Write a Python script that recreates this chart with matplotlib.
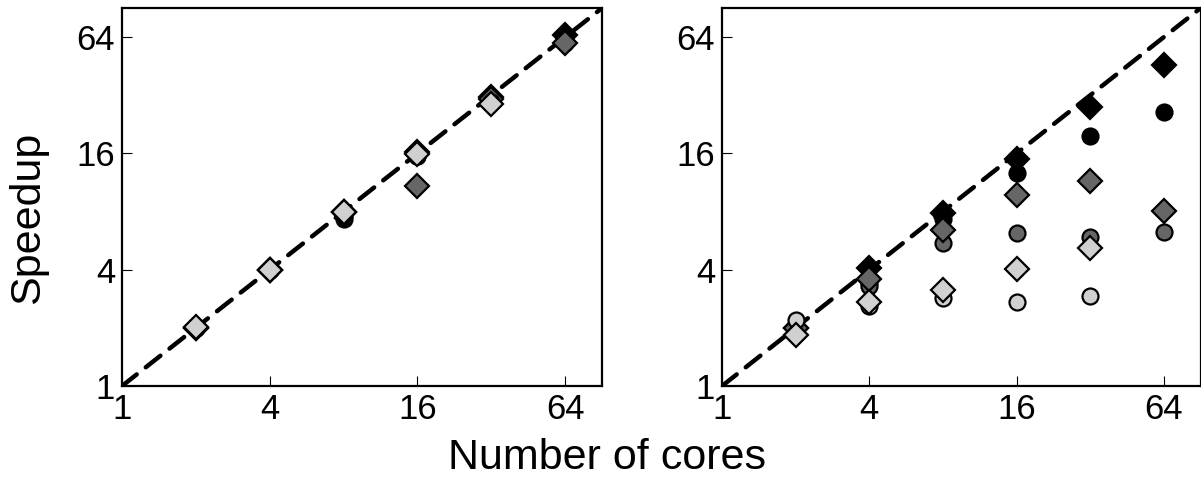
import matplotlib
matplotlib.use("Agg")
import matplotlib.pyplot as plt

plt.rcParams["font.family"] = ["Liberation Sans", "DejaVu Sans"]

# Core counts and measured speedups
cores = [2, 4, 8, 16, 32, 64]
cores_short = [2, 4, 8, 16, 32]

# Left panel
black_circle_L = [2.0, 4.0, 7.3, 16.0, 31.0, 64.0]
black_diamond_L = [2.0, 4.0, 8.0, 16.3, 31.5, 66.0]
dark_circle_L = [2.0, 4.0, 7.6, 15.5, 30.0, 60.0]
dark_diamond_L = [2.0, 4.0, 8.0, 10.9, 30.5, 60.0]
light_circle_L = [2.0, 4.0, 7.8, 15.5, 29.5]
light_diamond_L = [2.03, 4.0, 8.0, 15.8, 29.0]

# Right panel
black_circle_R = [2.0, 3.4, 7.3, 12.7, 19.8, 26.1]
black_diamond_R = [2.0, 4.1, 7.9, 15.0, 27.7, 45.8]
dark_circle_R = [2.0, 3.3, 5.5, 6.2, 5.9, 6.3]
dark_diamond_R = [2.0, 3.6, 6.4, 9.7, 11.5, 8.1]
light_circle_R = [2.2, 2.6, 2.87, 2.73, 2.93]
light_diamond_R = [1.84, 2.73, 3.15, 4.05, 5.2]

ticks = [1, 4, 16, 64]
tick_labels = ["1", "4", "16", "64"]
lim = (1, 90.5)

BLACK = "#000000"
DARK = "#666666"
LIGHT = "#d0d0d0"

fig = plt.figure(figsize=(12.01, 4.79), dpi=100)
ax_l = fig.add_axes([0.1016, 0.1942, 0.3997, 0.789])
ax_r = fig.add_axes([0.6012, 0.1942, 0.3985, 0.789])


def draw_panel(ax, series):
    ax.plot(lim, lim, color="black", lw=3.2, ls=(0, (4.2, 2.6)),
            dash_capstyle="round", zorder=1)
    z = 3
    for xs, ys, marker, color in series:
        ms = 11.5 if marker == "o" else 12.5
        ax.plot(xs, ys, ls="none", marker=marker, ms=ms, mfc=color,
                mec="black", mew=1.6, zorder=z, clip_on=False)
        z += 1
    ax.set_xscale("log", base=2)
    ax.set_yscale("log", base=2)
    ax.set_xlim(*lim)
    ax.set_ylim(*lim)
    ax.set_xticks(ticks, tick_labels)
    ax.set_yticks(ticks, tick_labels)
    ax.minorticks_off()
    ax.tick_params(direction="in", length=7, width=0.8, labelsize=25,
                   pad=5, top=False, right=False)
    for sp in ax.spines.values():
        sp.set_linewidth(1.6)


draw_panel(ax_l, [
    (cores, black_circle_L, "o", BLACK),
    (cores, black_diamond_L, "D", BLACK),
    (cores, dark_circle_L, "o", DARK),
    (cores, dark_diamond_L, "D", DARK),
    (cores_short, light_circle_L, "o", LIGHT),
    (cores_short, light_diamond_L, "D", LIGHT),
])

draw_panel(ax_r, [
    (cores, black_circle_R, "o", BLACK),
    (cores, black_diamond_R, "D", BLACK),
    (cores, dark_circle_R, "o", DARK),
    (cores, dark_diamond_R, "D", DARK),
    (cores_short, light_circle_R, "o", LIGHT),
    (cores_short, light_diamond_R, "D", LIGHT),
])

fig.text(0.0235, 0.545, "Speedup", rotation=90, fontsize=31,
         ha="center", va="center")
fig.text(0.5055, 0.044, "Number of cores", fontsize=31,
         ha="center", va="center")

fig.savefig("out.png", dpi=100)
